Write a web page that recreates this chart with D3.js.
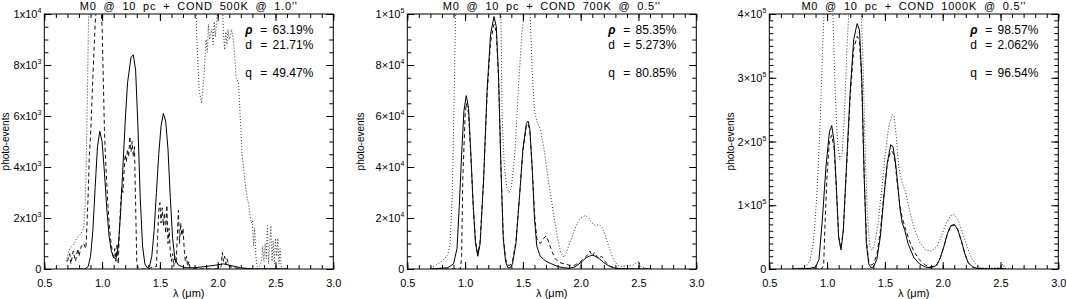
<!DOCTYPE html>
<html>
<head>
<meta charset="utf-8">
<script src="https://d3js.org/d3.v7.min.js"></script>
<style>
  body { margin: 0; background: #fff; }
  svg { font-family: "Liberation Sans", Arial, sans-serif; }
</style>
</head>
<body>
<div id="chart"></div>
<script>

// ---- data: [wavelength (um), photo-events / 1000] ----

// M0 + COND 500K @ 1.0"
const solid500 = [[0.70,0],[0.85,0],[0.88,0.1],[0.90,0.5],[0.92,1.5],[0.94,3.2],[0.96,4.8],[0.98,5.4],[1.00,5.0],[1.02,3.8],[1.04,2.4],[1.06,1.3],[1.08,0.7],[1.10,0.45],[1.12,0.4],[1.14,0.9],[1.16,2.2],[1.18,4.0],[1.20,5.8],[1.22,7.3],[1.25,8.3],[1.27,8.4],[1.29,7.8],[1.31,5.6],[1.33,2.8],[1.35,0.9],[1.37,0.2],[1.39,0.05],[1.41,0.1],[1.43,0.5],[1.45,1.5],[1.47,3.0],[1.49,4.5],[1.51,5.6],[1.53,6.1],[1.55,5.8],[1.57,4.7],[1.59,2.8],[1.61,1.2],[1.63,0.4],[1.66,0.15],[1.72,0.05],[1.80,0.05],[1.90,0.1],[1.98,0.15],[2.05,0.2],[2.10,0.15],[2.15,0.1],[2.20,0.05],[2.30,0],[2.60,0]];
const dashed500 = [[0.70,0.3],[0.72,0.6],[0.73,0.2],[0.75,0.7],[0.77,0.3],[0.79,0.8],[0.80,0.5],[0.82,0.9],[0.84,1.0],[0.86,0.8],[0.87,1.8],[0.88,3.0],[0.89,4.5],[0.90,5.2],[0.92,7.5],[0.94,9.6],[0.96,11],[0.98,11],[1.00,9.5],[1.02,5.5],[1.03,4.3],[1.05,2.5],[1.07,1.3],[1.09,0.6],[1.10,0.4],[1.11,0.8],[1.12,0.3],[1.13,1.0],[1.14,0.2],[1.15,1.5],[1.16,2.5],[1.17,3.2],[1.18,3.0],[1.19,3.8],[1.20,4.5],[1.21,4.2],[1.22,4.7],[1.23,4.4],[1.24,5.2],[1.25,4.6],[1.26,5.0],[1.27,4.4],[1.28,4.8],[1.29,2.5],[1.30,0.3],[1.31,0.05],[1.35,0],[1.40,0],[1.45,0.1],[1.47,0.1],[1.48,1.2],[1.49,2.3],[1.50,2.6],[1.51,1.8],[1.52,2.4],[1.53,1.7],[1.54,2.2],[1.55,1.4],[1.56,2.5],[1.57,1.0],[1.58,1.6],[1.59,0.6],[1.60,0.3],[1.61,0.6],[1.62,0.1],[1.63,0.5],[1.64,0.2],[1.65,1.2],[1.66,2.3],[1.67,1.0],[1.68,1.8],[1.69,1.3],[1.70,1.6],[1.71,0.8],[1.72,0.3],[1.73,0.5],[1.74,0.1],[1.75,0.3],[1.76,0.05],[1.80,0],[2.00,0],[2.03,0.1],[2.04,0.65],[2.05,0.3],[2.06,0.5],[2.07,0.2],[2.08,0.4],[2.10,0.1],[2.20,0],[2.60,0]];
const dotted500 = [[0.69,0.3],[0.70,0.5],[0.72,0.8],[0.74,0.9],[0.76,1.0],[0.78,1.2],[0.80,1.3],[0.82,1.4],[0.84,1.6],[0.85,2.2],[0.86,3.5],[0.87,6],[0.88,9],[0.89,12],[0.95,20],[1.20,25],[1.50,22],[1.75,15],[1.80,12],[1.82,9],[1.84,7],[1.86,6.5],[1.88,7.5],[1.90,9.0],[1.91,8.5],[1.92,9.6],[1.93,9.0],[1.95,9.4],[1.96,8.8],[1.97,9.7],[1.98,9.1],[2.00,10.2],[2.02,11],[2.04,10.5],[2.05,9.2],[2.06,8.6],[2.07,9.3],[2.08,8.8],[2.09,9.4],[2.10,9.0],[2.12,9.4],[2.14,8.8],[2.16,7.5],[2.18,7.3],[2.20,5.5],[2.21,4.5],[2.23,3.7],[2.25,2.9],[2.26,2.7],[2.27,2.5],[2.28,2.1],[2.29,1.8],[2.30,1.9],[2.31,0.9],[2.32,1.6],[2.33,0.5],[2.34,0.1],[2.36,0.1],[2.38,0.3],[2.39,0.9],[2.40,0.3],[2.41,1.0],[2.42,0.4],[2.43,1.7],[2.44,0.2],[2.45,1.0],[2.46,1.7],[2.47,0.3],[2.48,1.1],[2.49,0.2],[2.50,1.2],[2.51,0.5],[2.52,1.2],[2.53,0.2],[2.54,0.8],[2.55,0.05]];

// M0 + COND 700K @ 0.5"
const solid700 = [[0.70,0],[0.85,0.5],[0.90,2],[0.93,8],[0.95,25],[0.97,45],[0.99,62],[1.01,68],[1.03,63],[1.05,45],[1.07,25],[1.09,10],[1.11,5],[1.13,10],[1.16,35],[1.19,70],[1.22,92],[1.25,99],[1.27,95],[1.29,75],[1.31,40],[1.33,12],[1.35,3],[1.37,0.5],[1.39,0.5],[1.41,2],[1.44,10],[1.47,28],[1.50,47],[1.53,57],[1.545,58],[1.56,55],[1.58,40],[1.60,20],[1.62,9],[1.65,5],[1.70,3],[1.75,2],[1.80,1],[1.85,0.5],[1.90,0.3],[1.95,0.8],[2.00,2.5],[2.05,4.5],[2.10,5.5],[2.15,4.5],[2.20,2.5],[2.25,1],[2.30,0.3],[2.40,0],[2.60,0]];
const dashed700 = [[0.70,0],[0.96,0],[0.97,5],[0.98,35],[1.00,60],[1.01,65],[1.03,61],[1.05,44],[1.07,25],[1.09,11],[1.11,6],[1.13,11],[1.16,35],[1.19,68],[1.22,89],[1.25,96],[1.27,93],[1.29,74],[1.31,40],[1.33,13],[1.35,4],[1.37,1.5],[1.39,1.5],[1.41,3],[1.44,11],[1.47,28],[1.50,46],[1.53,56],[1.545,57],[1.56,54],[1.58,40],[1.60,22],[1.62,12],[1.65,10],[1.68,12],[1.70,13],[1.72,11],[1.75,7],[1.78,4],[1.82,2.5],[1.86,2],[1.90,1.5],[1.95,1.5],[2.00,3],[2.05,5],[2.08,7],[2.10,5],[2.12,6.5],[2.15,4],[2.18,5],[2.22,2.5],[2.26,1],[2.30,0.3],[2.40,0],[2.60,0]];
const dotted700 = [[0.70,0.5],[0.75,1.5],[0.80,3],[0.85,5.5],[0.87,10],[0.89,30],[0.91,80],[0.93,130],[1.05,250],[1.20,300],[1.29,160],[1.31,100],[1.32,60],[1.34,40],[1.36,32],[1.38,30],[1.40,32],[1.43,45],[1.46,70],[1.49,92],[1.52,104],[1.54,110],[1.56,103],[1.58,78],[1.60,62],[1.62,58],[1.65,55],[1.68,48],[1.71,38],[1.74,29],[1.77,20],[1.80,12],[1.83,6],[1.86,4.5],[1.88,7],[1.92,12],[1.96,17],[2.00,20],[2.04,21],[2.07,20],[2.10,18],[2.13,17],[2.16,17.5],[2.19,16],[2.22,12],[2.25,8],[2.28,4],[2.31,2],[2.34,1],[2.40,1.2],[2.45,1.5],[2.50,3],[2.52,1],[2.55,0.5]];

// M0 + COND 1000K @ 0.5"
const solid1000 = [[0.70,0],[0.85,1],[0.90,3],[0.93,15],[0.96,80],[0.99,160],[1.02,215],[1.04,225],[1.06,200],[1.08,130],[1.10,50],[1.12,30],[1.14,60],[1.17,170],[1.20,280],[1.23,360],[1.26,385],[1.28,375],[1.30,300],[1.32,150],[1.34,40],[1.36,8],[1.38,2],[1.40,3],[1.43,15],[1.46,50],[1.49,110],[1.52,165],[1.55,195],[1.57,192],[1.59,170],[1.61,135],[1.63,95],[1.65,72],[1.67,62],[1.70,40],[1.75,18],[1.80,8],[1.85,3],[1.90,2],[1.95,6],[1.98,18],[2.01,35],[2.04,55],[2.07,68],[2.10,70],[2.13,62],[2.16,45],[2.19,25],[2.22,10],[2.26,3],[2.30,1],[2.40,0],[2.50,1],[2.55,0]];
const dashed1000 = [[0.70,0],[0.95,0],[0.97,5],[0.98,60],[1.00,150],[1.02,200],[1.04,210],[1.06,190],[1.08,125],[1.10,50],[1.12,32],[1.14,60],[1.17,165],[1.20,270],[1.23,345],[1.26,365],[1.28,358],[1.30,290],[1.32,150],[1.34,45],[1.36,12],[1.38,6],[1.40,8],[1.43,22],[1.46,58],[1.49,115],[1.52,165],[1.55,185],[1.57,183],[1.59,165],[1.61,128],[1.63,100],[1.65,80],[1.68,62],[1.71,45],[1.75,28],[1.80,14],[1.85,6],[1.90,3],[1.95,7],[1.98,18],[2.01,35],[2.04,55],[2.07,67],[2.10,69],[2.13,62],[2.16,45],[2.19,25],[2.22,10],[2.26,3],[2.30,1],[2.40,0]];
const dotted1000 = [[0.70,0],[0.80,2],[0.85,12],[0.88,40],[0.91,110],[0.94,230],[0.96,340],[0.98,430],[1.00,480],[1.03,460],[1.05,400],[1.07,280],[1.09,200],[1.11,172],[1.13,180],[1.15,240],[1.17,340],[1.19,410],[1.22,470],[1.26,490],[1.29,430],[1.31,330],[1.33,180],[1.35,80],[1.37,35],[1.39,30],[1.41,38],[1.44,70],[1.47,120],[1.50,175],[1.53,220],[1.56,242],[1.58,240],[1.60,205],[1.62,160],[1.65,135],[1.68,120],[1.71,95],[1.75,65],[1.80,42],[1.85,30],[1.90,28],[1.95,35],[1.99,52],[2.03,72],[2.07,84],[2.10,85],[2.13,78],[2.17,58],[2.21,35],[2.25,17],[2.29,6],[2.33,2],[2.40,1],[2.50,3],[2.52,8],[2.54,1],[2.60,0]];

// titles, stats and tick labels
const titles = ["M0 @ 10 pc + COND 500K @ 1.0''", "M0 @ 10 pc + COND 700K @ 0.5''", "M0 @ 10 pc + COND 1000K @ 0.5''"];
const rhoVals = ["63.19%", "85.35%", "98.57%"];
const dVals = ["21.71%", "5.273%", "2.062%"];
const qVals = ["49.47%", "80.85%", "96.54%"];
const xTicks = [0.5, 1.0, 1.5, 2.0, 2.5, 3.0];
const yTicks500 = [0, 2, 4, 6, 8, 10];
const yLabels500 = ["0", "2x10^3", "4x10^3", "6x10^3", "8x10^3", "1x10^4"];
const yTicks700 = [0, 20, 40, 60, 80, 100];
const yLabels700 = ["0", "2×10^4", "4×10^4", "6×10^4", "8×10^4", "1×10^5"];
const yTicks1000 = [0, 100, 200, 300, 400];
const yLabels1000 = ["0", "1×10^5", "2×10^5", "3×10^5", "4×10^5"];

const panels = [
  {left: 44.3, ymax: 10, minor: 0.5, ticks: yTicks500, labels: yLabels500, series: [solid500, dashed500, dotted500]},
  {left: 407.3, ymax: 100, minor: 5, ticks: yTicks700, labels: yLabels700, series: [solid700, dashed700, dotted700]},
  {left: 769.3, ymax: 400, minor: 10, ticks: yTicks1000, labels: yLabels1000, series: [solid1000, dashed1000, dotted1000]}
];

const W = 289, plotTop = 14, plotBottom = 269;
const styles = [null, "4,3", "1,2"];
const strokes = ["#000", "#111", "#333"];

const svg = d3.select("#chart").append("svg")
    .attr("width", 1066)
    .attr("height", 299);

panels.forEach(function(p, i) {
  const g = svg.append("g").attr("transform", `translate(${p.left},0)`);

  const x = d3.scaleLinear().domain([0.5, 3.0]).range([0, W]);
  const y = d3.scaleLinear().domain([0, p.ymax]).range([plotBottom, plotTop]);

  // clip region
  g.append("clipPath").attr("id", "clip" + i)
    .append("rect").attr("x", 0).attr("y", plotTop).attr("width", W).attr("height", plotBottom - plotTop);

  // curves
  const line = d3.line().x(d => x(d[0])).y(d => y(d[1]));
  p.series.forEach(function(s, k) {
    g.append("path")
      .datum(s)
      .attr("clip-path", `url(#clip${i})`)
      .attr("d", line)
      .attr("fill", "none")
      .attr("stroke", strokes[k])
      .attr("stroke-width", 1)
      .attr("stroke-dasharray", styles[k]);
  });

  // axes: inward ticks on all four sides
  const xMinor = d3.range(0.5, 3.01, 0.1);
  const yMinor = d3.range(0, p.ymax + 1e-9, p.minor);

  function axisStyle(sel) {
    sel.select(".domain").remove();
    sel.selectAll("line").attr("stroke", "#000");
    sel.selectAll("text").attr("fill", "#000").style("font-size", "11px");
  }

  g.append("g").attr("transform", `translate(0,${plotBottom})`)
    .call(d3.axisBottom(x).tickValues(xMinor).tickSize(-4).tickFormat(""))
    .call(axisStyle);
  g.append("g").attr("transform", `translate(0,${plotBottom})`)
    .call(d3.axisBottom(x).tickValues(xTicks).tickSize(-7).tickPadding(10).tickFormat(d3.format(".1f")))
    .call(axisStyle);
  g.append("g").attr("transform", `translate(0,${plotTop})`)
    .call(d3.axisTop(x).tickValues(xMinor).tickSize(-4).tickFormat(""))
    .call(axisStyle);
  g.append("g").attr("transform", `translate(0,${plotTop})`)
    .call(d3.axisTop(x).tickValues(xTicks).tickSize(-7).tickFormat(""))
    .call(axisStyle);

  g.append("g")
    .call(d3.axisLeft(y).tickValues(yMinor).tickSize(-4).tickFormat(""))
    .call(axisStyle);
  g.append("g")
    .call(d3.axisLeft(y).tickValues(p.ticks).tickSize(-7).tickFormat(""))
    .call(axisStyle);
  g.append("g").attr("transform", `translate(${W},0)`)
    .call(d3.axisRight(y).tickValues(yMinor).tickSize(-4).tickFormat(""))
    .call(axisStyle);
  g.append("g").attr("transform", `translate(${W},0)`)
    .call(d3.axisRight(y).tickValues(p.ticks).tickSize(-7).tickFormat(""))
    .call(axisStyle);

  // y tick labels with superscripts
  p.ticks.forEach(function(t, j) {
    const parts = p.labels[j].split("^");
    const txt = g.append("text")
      .attr("x", -3)
      .attr("y", y(t) + 4)
      .attr("text-anchor", "end")
      .style("font-size", "11px");
    txt.append("tspan").text(parts[0]);
    if (parts[1]) {
      txt.append("tspan").attr("dy", -5).style("font-size", "7px").text(parts[1]);
    }
  });

  // frame
  g.append("rect")
    .attr("x", 0).attr("y", plotTop)
    .attr("width", W).attr("height", plotBottom - plotTop)
    .attr("fill", "none").attr("stroke", "#000").attr("stroke-width", 1);

  // title
  g.append("text")
    .attr("x", W / 2).attr("y", 10)
    .attr("text-anchor", "middle")
    .style("font-size", "11px")
    .style("letter-spacing", "0.8px")
    .style("word-spacing", "3px")
    .text(titles[i]);

  // axis labels
  g.append("text")
    .attr("x", W / 2).attr("y", 297)
    .attr("text-anchor", "middle")
    .style("font-size", "11px")
    .text("λ (μm)");
  g.append("text")
    .attr("transform", `translate(${i == 0 ? -35 : (i == 1 ? -43 : -35.5)},${(plotTop + plotBottom) / 2}) rotate(-90)`)
    .attr("text-anchor", "middle")
    .style("font-size", "10px")
    .text("photo-events");

  // statistics
  const stats = [["ρ", rhoVals[i], 34], ["d", dVals[i], 49], ["q", qVals[i], 77]];
  stats.forEach(function(s) {
    g.append("text").attr("x", W - 88).attr("y", s[2])
      .style("font-size", "12px")
      .style("font-style", s[0] == "ρ" ? "italic" : "normal")
      .style("font-weight", s[0] == "ρ" ? "bold" : "normal")
      .text(s[0]);
    g.append("text").attr("x", W - 73).attr("y", s[2])
      .style("font-size", "12px").text("=");
    g.append("text").attr("x", W - 20).attr("y", s[2])
      .attr("text-anchor", "end")
      .style("font-size", "12px").text(s[1]);
  });
});

</script>
</body>
</html>
